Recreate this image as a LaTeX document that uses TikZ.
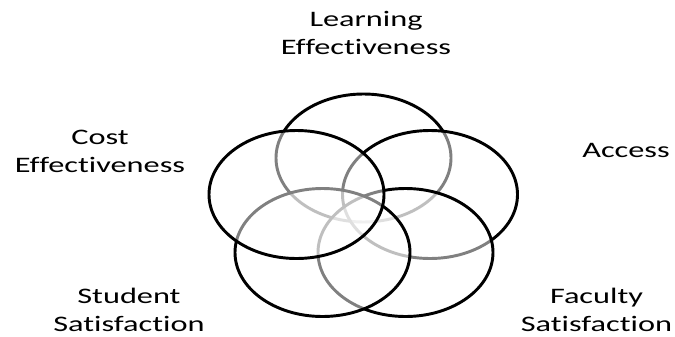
\documentclass[tikz,border=0pt]{standalone}
\usepackage{fontspec}
\setmainfont{Carlito}[Ligatures=NoCommon]
\usepackage{xcolor}

\tikzset{
  ring/.style={line width=2.2pt, draw=black, fill=white, fill opacity=0.5, draw opacity=1},
  lbl/.style={font=\fontsize{16.6}{21}\selectfont, align=center, inner sep=0pt, xscale=1.46, anchor=base}
}

\begin{document}
\begin{tikzpicture}[x=0.75pt,y=0.75pt,yscale=-1,xscale=1]
\useasboundingbox (0,0) rectangle (675,336);

%Shape: Ellipse [top]
\draw [ring] (363.5,158) ellipse [x radius=87.5, y radius=64];
%Shape: Ellipse [right]
\draw [ring] (430,194.5) ellipse [x radius=87.5, y radius=64];
%Shape: Ellipse [bottom right]
\draw [ring] (405.5,252.5) ellipse [x radius=87.5, y radius=64];
%Shape: Ellipse [bottom left]
\draw [ring] (322.5,252.5) ellipse [x radius=87.5, y radius=64];
%Shape: Ellipse [left]
\draw [ring] (296.5,194.5) ellipse [x radius=87.5, y radius=64];

% Text Node (anchor base = last line)
\node [lbl] (learn) at (366,54) {Learning\\Effectiveness};
% Text Node
\node [lbl] (cost) at (100,172.3) {Cost\\Effectiveness};
% Text Node
\node [lbl] (access) at (626,157.3) {Access};
% Text Node
\node [lbl] (student) at (129,331.5) {Student\\Satisfaction};
% Text Node
\node [lbl] (faculty) at (596.5,331.5) {Faculty\\Satisfaction};

\end{tikzpicture}
\end{document}
